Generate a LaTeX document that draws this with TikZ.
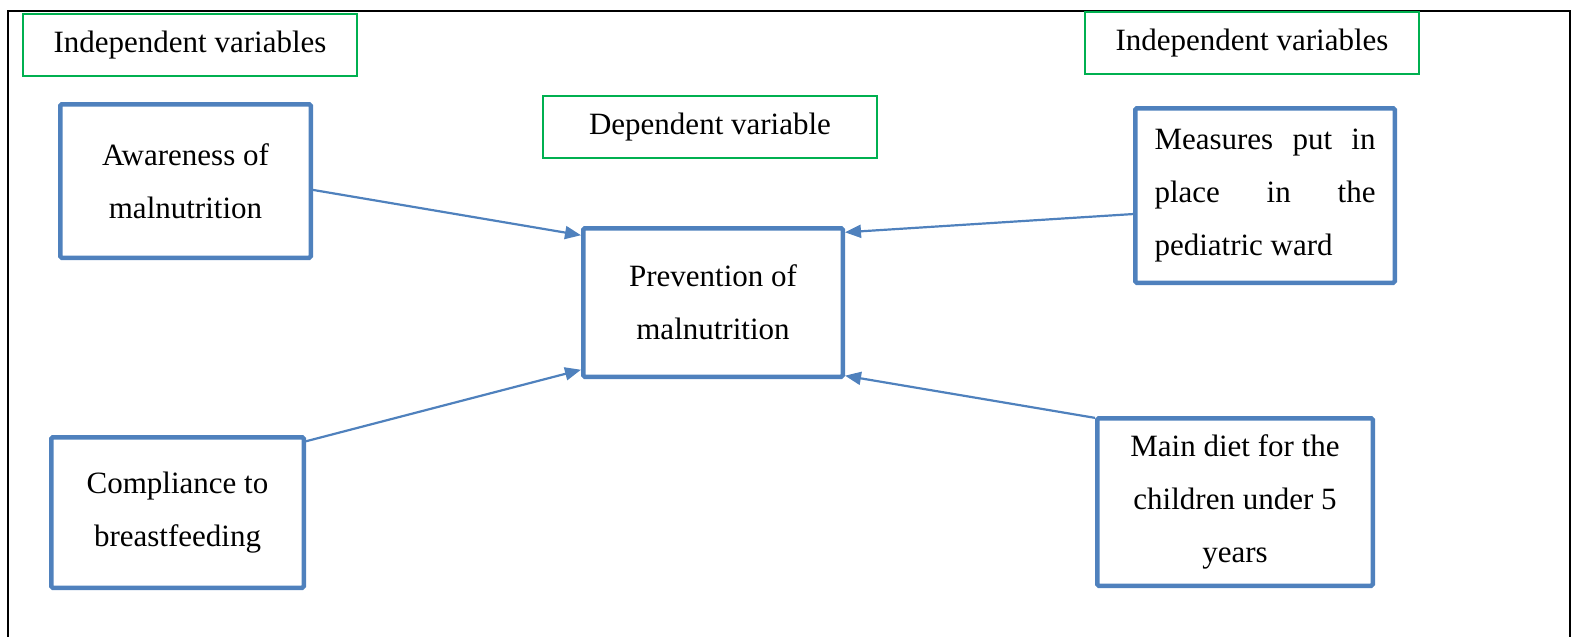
\documentclass[tikz,border=0pt]{standalone}
\usepackage{fontspec}
\setmainfont{Liberation Serif}
\usetikzlibrary{arrows.meta}
\definecolor{boxblue}{RGB}{79,129,189}
\definecolor{labgreen}{RGB}{0,176,80}

\begin{document}
\begin{tikzpicture}[x=1pt,y=-1pt,
  every node/.style={font=\fontsize{31}{53}\selectfont},
  varbox/.style={draw=labgreen,line width=2pt,minimum width=334pt,minimum height=62pt,inner sep=0pt},
  factor/.style={draw=boxblue,line width=4.5pt,rounded corners=1.5pt,align=center,inner sep=0pt},
  link/.style={draw=boxblue,line width=2.2pt,-{Triangle[length=16pt,width=13pt]}}]
\useasboundingbox (0,0) rectangle (1580,637);
\draw[line width=2.5pt] (8,637) -- (8,11) -- (1570,11) -- (1570,637);
\node[varbox] (indepl) at (190,45) {Independent variables};
\node[varbox] (indepr) at (1252,43) {Independent variables};
\node[varbox] (dep) at (710,127) {Dependent variable};
\node[factor,minimum width=250.5pt,minimum height=153.5pt] (aware) at (185.5,181) {Awareness of\\malnutrition};
\node[factor,minimum width=259.5pt,minimum height=148.5pt] (prev) at (713,302.5) {Prevention of\\malnutrition};
\node[factor,minimum width=259.5pt,minimum height=174.5pt] (meas) at (1265,195.5) {\makebox[221pt][s]{Measures put in}\\\makebox[221pt][s]{place in the}\\\makebox[221pt][l]{pediatric ward}};
\node[factor,minimum width=252.5pt,minimum height=150.5pt] (comp) at (177.5,512.5) {Compliance to\\breastfeeding};
\node[factor,minimum width=275.5pt,minimum height=167.5pt] (diet) at (1235,502) {Main diet for the\\children under 5\\years};
\draw[link] (aware.-4) -- (prev.153);
\draw[link] (comp.29) -- (prev.207);
\draw[link] (meas.188) -- (prev.28);
\draw[link] (diet.149) -- (prev.331);
\end{tikzpicture}
\end{document}
